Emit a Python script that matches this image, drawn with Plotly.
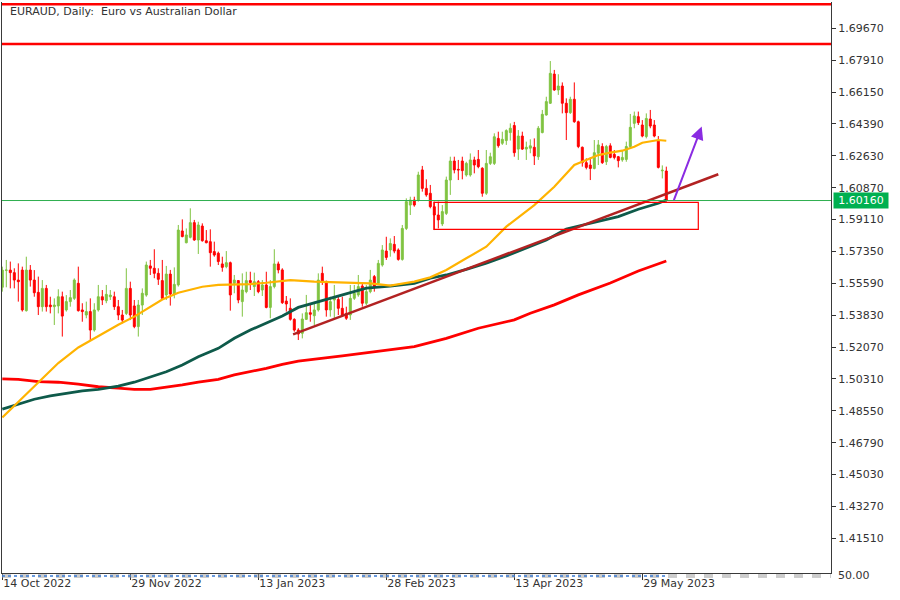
import plotly.graph_objects as go

# ---------------- data ----------------
date_ticks = [0, 32, 64, 96, 128, 160]
date_labels = ["14 Oct 2022", "29 Nov 2022", "13 Jan 2023", "28 Feb 2023", "13 Apr 2023", "29 May 2023"]

price_ticks = [1.41510, 1.43270, 1.45030, 1.46790, 1.48550, 1.50310, 1.52070, 1.53830, 1.55590,
               1.57350, 1.59110, 1.60870, 1.62630, 1.64390, 1.66150, 1.67910, 1.69670]

opens = [1.5537, 1.5631, 1.5632, 1.5618, 1.5577, 1.5632, 1.5408, 1.5632, 1.5577, 1.5509,
         1.5430, 1.5531, 1.5439, 1.5430, 1.5434, 1.5485, 1.5412, 1.5458, 1.5476, 1.5559,
         1.5412, 1.5384, 1.5403, 1.5301, 1.5412, 1.5485, 1.5463, 1.5485, 1.5485, 1.5430,
         1.5384, 1.5393, 1.5531, 1.5434, 1.5320, 1.5439, 1.5494, 1.5655, 1.5642, 1.5614,
         1.5574, 1.5495, 1.5610, 1.5500, 1.5550, 1.5848, 1.5783, 1.5813, 1.5894, 1.5798,
         1.5875, 1.5794, 1.5789, 1.5734, 1.5725, 1.5666, 1.5651, 1.5673, 1.5559, 1.5574,
         1.5458, 1.5513, 1.5574, 1.5541, 1.5568, 1.5522, 1.5550, 1.5426, 1.5541, 1.5666,
         1.5633, 1.5461, 1.5421, 1.5360, 1.5301, 1.5283, 1.5360, 1.5397, 1.5380, 1.5412,
         1.5614, 1.5563, 1.5412, 1.5467, 1.5470, 1.5421, 1.5393, 1.5384, 1.5476, 1.5495,
         1.5544, 1.5449, 1.5513, 1.5596, 1.5559, 1.5660, 1.5737, 1.5743, 1.5774, 1.5743,
         1.5691, 1.5862, 1.5991, 1.6019, 1.6019, 1.6185, 1.6083, 1.6056, 1.5982, 1.5936,
         1.5887, 1.5945, 1.6129, 1.6234, 1.6188, 1.6234, 1.6157, 1.6157, 1.6240, 1.6243,
         1.6194, 1.6056, 1.6221, 1.6221, 1.6359, 1.6332, 1.6347, 1.6391, 1.6430, 1.6300,
         1.6372, 1.6300, 1.6305, 1.6310, 1.6258, 1.6391, 1.6488, 1.6553, 1.6714, 1.6626,
         1.6648, 1.6553, 1.6501, 1.6575, 1.6451, 1.6310, 1.6225, 1.6212, 1.6193, 1.6277,
         1.6314, 1.6230, 1.6318, 1.6271, 1.6258, 1.6240, 1.6243, 1.6314, 1.6442, 1.6479,
         1.6433, 1.6369, 1.6466, 1.6433, 1.6347, 1.6180, 1.6179]
highs = [1.5651, 1.5688, 1.5679, 1.5642, 1.5669, 1.5651, 1.5706, 1.5660, 1.5632, 1.5596,
         1.5577, 1.5550, 1.5485, 1.5476, 1.5526, 1.5513, 1.5494, 1.5522, 1.5586, 1.5651,
         1.5449, 1.5458, 1.5476, 1.5449, 1.5550, 1.5522, 1.5550, 1.5522, 1.5513, 1.5467,
         1.5412, 1.5642, 1.5568, 1.5467, 1.5467, 1.5531, 1.5679, 1.5688, 1.5747, 1.5642,
         1.5688, 1.5655, 1.5633, 1.5647, 1.5881, 1.5912, 1.5862, 1.5973, 1.5909, 1.5899,
         1.5890, 1.5853, 1.5857, 1.5789, 1.5734, 1.5706, 1.5737, 1.5679, 1.5605, 1.5577,
         1.5614, 1.5623, 1.5623, 1.5618, 1.5577, 1.5577, 1.5623, 1.5577, 1.5747, 1.5679,
         1.5642, 1.5489, 1.5476, 1.5366, 1.5311, 1.5393, 1.5495, 1.5449, 1.5458, 1.5614,
         1.5651, 1.5574, 1.5485, 1.5550, 1.5485, 1.5485, 1.5430, 1.5550, 1.5550, 1.5605,
         1.5559, 1.5550, 1.5633, 1.5605, 1.5688, 1.5770, 1.5816, 1.5807, 1.5820, 1.5752,
         1.5881, 1.6028, 1.6037, 1.6037, 1.6175, 1.6207, 1.6133, 1.6102, 1.6010, 1.6010,
         1.5991, 1.6148, 1.6258, 1.6258, 1.6240, 1.6258, 1.6230, 1.6276, 1.6258, 1.6295,
         1.6200, 1.6295, 1.6280, 1.6387, 1.6396, 1.6396, 1.6409, 1.6442, 1.6450, 1.6405,
         1.6396, 1.6341, 1.6354, 1.6359, 1.6427, 1.6516, 1.6589, 1.6786, 1.6737, 1.6713,
         1.6668, 1.6580, 1.6589, 1.6668, 1.6457, 1.6314, 1.6249, 1.6254, 1.6350, 1.6350,
         1.6332, 1.6323, 1.6332, 1.6295, 1.6262, 1.6295, 1.6341, 1.6494, 1.6507, 1.6507,
         1.6460, 1.6497, 1.6516, 1.6460, 1.6372, 1.6210, 1.6203]
lows = [1.5513, 1.5537, 1.5531, 1.5531, 1.5458, 1.5403, 1.5403, 1.5541, 1.5485, 1.5384,
        1.5403, 1.5403, 1.5393, 1.5329, 1.5393, 1.5265, 1.5403, 1.5430, 1.5467, 1.5403,
        1.5347, 1.5366, 1.5246, 1.5292, 1.5403, 1.5439, 1.5449, 1.5467, 1.5412, 1.5356,
        1.5338, 1.5384, 1.5356, 1.5311, 1.5265, 1.5384, 1.5485, 1.5605, 1.5587, 1.5550,
        1.5467, 1.5467, 1.5436, 1.5476, 1.5541, 1.5813, 1.5780, 1.5807, 1.5794, 1.5721,
        1.5789, 1.5780, 1.5651, 1.5706, 1.5660, 1.5623, 1.5642, 1.5408, 1.5504, 1.5449,
        1.5375, 1.5504, 1.5522, 1.5489, 1.5504, 1.5489, 1.5421, 1.5366, 1.5531, 1.5614,
        1.5445, 1.5403, 1.5353, 1.5292, 1.5246, 1.5255, 1.5357, 1.5347, 1.5329, 1.5403,
        1.5550, 1.5375, 1.5375, 1.5366, 1.5384, 1.5375, 1.5357, 1.5357, 1.5467, 1.5485,
        1.5430, 1.5439, 1.5504, 1.5513, 1.5550, 1.5651, 1.5688, 1.5706, 1.5725, 1.5684,
        1.5684, 1.5853, 1.5936, 1.5982, 1.6010, 1.6065, 1.6037, 1.5973, 1.5853, 1.5862,
        1.5875, 1.5936, 1.6047, 1.6166, 1.6129, 1.6133, 1.6148, 1.6148, 1.6166, 1.6194,
        1.6037, 1.6047, 1.6212, 1.6212, 1.6308, 1.6323, 1.6323, 1.6347, 1.6258, 1.6240,
        1.6295, 1.6240, 1.6277, 1.6212, 1.6240, 1.6387, 1.6485, 1.6549, 1.6622, 1.6599,
        1.6497, 1.6350, 1.6494, 1.6445, 1.6305, 1.6203, 1.6188, 1.6129, 1.6188, 1.6212,
        1.6218, 1.6212, 1.6249, 1.6243, 1.6199, 1.6230, 1.6230, 1.6305, 1.6415, 1.6433,
        1.6365, 1.6359, 1.6415, 1.6365, 1.6193, 1.6138, 1.6010]
closes = [1.5632, 1.5632, 1.5618, 1.5577, 1.5568, 1.5412, 1.5632, 1.5577, 1.5507, 1.5430,
          1.5531, 1.5430, 1.5430, 1.5439, 1.5485, 1.5378, 1.5458, 1.5480, 1.5577, 1.5408,
          1.5403, 1.5403, 1.5301, 1.5412, 1.5485, 1.5467, 1.5498, 1.5494, 1.5430, 1.5384,
          1.5356, 1.5531, 1.5384, 1.5320, 1.5439, 1.5504, 1.5660, 1.5642, 1.5614, 1.5581,
          1.5476, 1.5610, 1.5500, 1.5553, 1.5853, 1.5817, 1.5826, 1.5894, 1.5798, 1.5881,
          1.5794, 1.5783, 1.5728, 1.5715, 1.5679, 1.5647, 1.5673, 1.5495, 1.5577, 1.5467,
          1.5522, 1.5574, 1.5563, 1.5568, 1.5513, 1.5550, 1.5426, 1.5541, 1.5666, 1.5633,
          1.5452, 1.5445, 1.5360, 1.5301, 1.5279, 1.5362, 1.5397, 1.5388, 1.5412, 1.5577,
          1.5568, 1.5412, 1.5458, 1.5485, 1.5421, 1.5384, 1.5366, 1.5476, 1.5504, 1.5541,
          1.5449, 1.5513, 1.5577, 1.5541, 1.5669, 1.5743, 1.5702, 1.5779, 1.5737, 1.5691,
          1.5862, 1.6010, 1.6019, 1.5991, 1.6157, 1.6083, 1.6047, 1.5982, 1.5936, 1.5909,
          1.5955, 1.6129, 1.6234, 1.6185, 1.6185, 1.6181, 1.6221, 1.6240, 1.6212, 1.6203,
          1.6056, 1.6221, 1.6258, 1.6368, 1.6319, 1.6354, 1.6402, 1.6415, 1.6280, 1.6372,
          1.6300, 1.6310, 1.6318, 1.6262, 1.6415, 1.6492, 1.6562, 1.6718, 1.6626, 1.6648,
          1.6553, 1.6501, 1.6575, 1.6451, 1.6314, 1.6225, 1.6199, 1.6193, 1.6280, 1.6323,
          1.6225, 1.6314, 1.6254, 1.6254, 1.6236, 1.6254, 1.6314, 1.6420, 1.6483, 1.6446,
          1.6372, 1.6469, 1.6427, 1.6372, 1.6199, 1.6183, 1.6016]

# moving averages (bar index, price)
ma50_idx = [0, 4, 9, 14, 19, 24, 29, 33, 37, 40, 44, 47, 50, 54, 62, 66, 72, 78, 86, 92, 97,
            103, 107, 111, 116, 121, 126, 133, 138, 143, 146, 149, 152, 155, 158, 160, 164, 166]
ma50_val = [1.4819, 1.4906, 1.5016, 1.5119, 1.5205, 1.5268, 1.5330, 1.5375, 1.5430, 1.5470,
            1.5507, 1.5522, 1.5540, 1.5550, 1.5555, 1.5562, 1.5577, 1.5568, 1.5565, 1.5559,
            1.5546, 1.5568, 1.5592, 1.5633, 1.5697, 1.5761, 1.5872, 1.5991, 1.6092, 1.6212,
            1.6240, 1.6267, 1.6280, 1.6291, 1.6313, 1.6335, 1.6350, 1.6346]

ma100_idx = [0, 4, 8, 12, 16, 20, 24, 29, 33, 37, 41, 45, 49, 54, 58, 62, 66, 70, 74, 79, 86,
             91, 97, 103, 107, 111, 116, 121, 126, 131, 136, 141, 148, 154, 159, 164, 166]
ma100_val = [1.4865, 1.4893, 1.4919, 1.4937, 1.4952, 1.4965, 1.4974, 1.4992, 1.5013, 1.5044,
             1.5071, 1.5108, 1.5154, 1.5200, 1.5256, 1.5301, 1.5338, 1.5379, 1.5426, 1.5458,
             1.5504, 1.5532, 1.5544, 1.5559, 1.5587, 1.5605, 1.5636, 1.5670, 1.5710, 1.5752,
             1.5798, 1.5859, 1.5894, 1.5927, 1.5968, 1.6001, 1.6019]

ma200_idx = [0, 4, 9, 14, 19, 24, 29, 33, 37, 41, 45, 49, 54, 58, 62, 66, 70, 74, 85, 96, 103,
             111, 119, 128, 132, 138, 144, 152, 159, 166]
ma200_val = [1.5031, 1.5029, 1.5016, 1.5013, 1.5002, 1.4988, 1.4980, 1.4974, 1.4974, 1.4985,
             1.4998, 1.5013, 1.5029, 1.5053, 1.5071, 1.5090, 1.5112, 1.5130, 1.5158, 1.5191,
             1.5209, 1.5255, 1.5311, 1.5357, 1.5394, 1.5440, 1.5495, 1.5561, 1.5627, 1.5682]

resistance_levels = [1.7099, 1.6880]
last_price = 1.60160
trend_x = [72.7, 179.0]
trend_y = [1.5277, 1.6161]
zone_x = [107.9, 174.0]
zone_y = [1.5857, 1.6006]
arrow_x = [167.75, 174.85]
arrow_y = [1.6010, 1.6424]

# ---------------- styling ----------------
GREEN = "#80c342"
RED = "#ff0000"
FONT = "DejaVu Sans"
TXT = "#333333"

n = len(closes)
xs = list(range(n))

fig = go.Figure()
fig.add_trace(go.Candlestick(
    x=xs, open=opens, high=highs, low=lows, close=closes,
    increasing=dict(line=dict(color=GREEN, width=1), fillcolor=GREEN),
    decreasing=dict(line=dict(color=RED, width=1), fillcolor=RED),
    whiskerwidth=0, showlegend=False, hoverinfo="skip"))

fig.add_trace(go.Scatter(x=ma200_idx, y=ma200_val, mode="lines",
                         line=dict(color="#ff0000", width=2.8), showlegend=False, hoverinfo="skip"))
fig.add_trace(go.Scatter(x=ma100_idx, y=ma100_val, mode="lines",
                         line=dict(color="#0e5a4a", width=2.8), showlegend=False, hoverinfo="skip"))
fig.add_trace(go.Scatter(x=ma50_idx, y=ma50_val, mode="lines",
                         line=dict(color="#ffb300", width=2.2), showlegend=False, hoverinfo="skip"))
fig.add_trace(go.Scatter(x=trend_x, y=trend_y, mode="lines",
                         line=dict(color="#b22222", width=2.5), showlegend=False, hoverinfo="skip"))

shapes = []
for lv in resistance_levels:
    shapes.append(dict(type="line", xref="paper", x0=0, x1=1, yref="y", y0=lv, y1=lv,
                       line=dict(color="#ff0000", width=2.5)))
shapes.append(dict(type="line", xref="paper", x0=0, x1=1, yref="y", y0=last_price, y1=last_price,
                   line=dict(color="#2eae4f", width=1)))
shapes.append(dict(type="rect", xref="x", yref="y", x0=zone_x[0], x1=zone_x[1],
                   y0=zone_y[0], y1=zone_y[1], line=dict(color="#ff0000", width=1.2)))
# collapsed indicator sub-window below the price chart
shapes.append(dict(type="line", xref="paper", x0=0, x1=1, yref="paper", y0=-0.0035, y1=-0.0035,
                   line=dict(color="#9a9a9a", width=1, dash="dash")))
shapes.append(dict(type="line", xref="paper", x0=0, x1=1, yref="paper", y0=-0.0070, y1=-0.0070,
                   line=dict(color="#9a9a9a", width=1, dash="dash")))
shapes.append(dict(type="line", xref="paper", x0=0, x1=0.80, yref="paper", y0=-0.0052, y1=-0.0052,
                   line=dict(color="#3a7bd5", width=1.5, dash="dot")))

annotations = [
    dict(text="EURAUD, Daily: \u00a0Euro vs Australian Dollar", xref="paper", yref="paper",
         x=0.0072, y=0.9825, xanchor="left", yanchor="middle", showarrow=False,
         font=dict(family=FONT, size=11, color=TXT)),
    dict(text=f"{last_price:.5f}", xref="paper", yref="y", x=1, y=last_price, xanchor="left",
         yanchor="middle", xshift=2, showarrow=False, bgcolor="#00b050", borderpad=1,
         font=dict(family=FONT, size=11, color="#ffffff"), width=52),
    dict(text="50.00", xref="paper", yref="paper", x=1, y=-0.004, xanchor="left", yanchor="middle",
         xshift=5, showarrow=False, font=dict(family=FONT, size=11, color=TXT)),
    dict(x=arrow_x[1], y=arrow_y[1], ax=arrow_x[0], ay=arrow_y[0], xref="x", yref="y",
         axref="x", ayref="y", showarrow=True, arrowhead=2, arrowsize=1.3, arrowwidth=2,
         arrowcolor="#8a2be2", text=""),
]

fig.update_layout(
    template="none",
    width=900, height=600,
    margin=dict(l=2, r=69, t=2, b=27, pad=0),
    paper_bgcolor="white", plot_bgcolor="white",
    shapes=shapes, annotations=annotations,
    boxgap=0.3,
    showlegend=False,
    font=dict(family=FONT, size=11, color=TXT),
    xaxis=dict(range=[-0.075, 207.175], tickmode="array", tickvals=date_ticks, ticktext=date_labels,
               ticks="outside", ticklen=6, tickcolor=TXT, showline=True, linecolor="#3a3a3a",
               linewidth=1, showgrid=False, zeroline=False, rangeslider=dict(visible=False),
               automargin=False,
               ticklabelposition="outside right", tickfont=dict(family=FONT, size=11, color=TXT)),
    yaxis=dict(range=[1.39599, 1.71119], side="right", tickmode="array", tickvals=price_ticks,
               ticktext=[f"{v:.5f}" for v in price_ticks], ticks="outside", ticklen=4,
               automargin=False,
               tickcolor=TXT, showline=True, mirror=True, linecolor="#3a3a3a", linewidth=1,
               showgrid=False, zeroline=False, tickfont=dict(family=FONT, size=11, color=TXT)),
)

fig.write_html("out.html", config={"displayModeBar": False},
               post_script="document.body.style.margin='0';document.body.style.padding='0';document.body.style.overflow='hidden';")
